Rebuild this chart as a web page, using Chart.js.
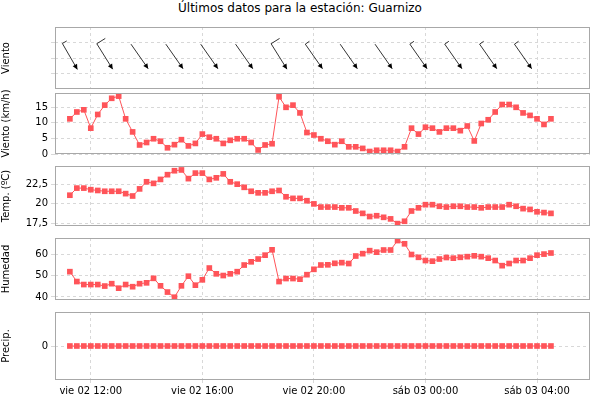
<!DOCTYPE html>
<html><head><meta charset="utf-8">
<script src="https://cdn.jsdelivr.net/npm/chart.js@4"></script>
<style>
body{margin:0;background:#fff;width:600px;height:400px;position:relative;overflow:hidden;font-family:"DejaVu Sans",sans-serif}
.title{position:absolute;top:1px;left:0;width:600px;text-align:center;font-size:12px;color:#000}
.p{position:absolute;left:0;width:600px}
</style></head><body>
<div class="title">Últimos datos para la estación: Guarnizo</div>
<div class="p" style="top:27px;height:62px"><canvas id="cDir"></canvas></div>
<div class="p" style="top:84px;height:79px"><canvas id="cVel"></canvas></div>
<div class="p" style="top:157px;height:78px"><canvas id="cTemp"></canvas></div>
<div class="p" style="top:229px;height:80px"><canvas id="cHum"></canvas></div>
<div class="p" style="top:303px;height:97px"><canvas id="cPre"></canvas></div>
<script>
// ============ DATA ============
// minutes since vie 02 00:00, one reading every 15 min from 11:15
const startMin = 675, stepMin = 15;
const windSpeed = [11.3,13.5,14.2,8.3,12.7,15.7,17.9,18.6,11.3,7.1,2.9,3.7,4.9,4.1,2.0,3.0,4.6,2.6,3.4,6.4,
  5.4,4.9,3.4,4.4,4.9,4.9,3.7,1.3,2.9,3.3,18.4,15.0,15.7,13.2,6.9,6.1,4.9,4.1,3.0,4.1,
  2.3,2.3,1.8,0.8,1.2,1.2,1.2,0.8,2.3,8.3,6.4,8.6,8.3,7.1,8.3,8.3,7.5,9.0,4.2,9.8,
  11.0,13.5,15.9,15.9,15.0,13.2,12.4,11.3,9.5,11.3];
const temperature = [21.1,22.0,22.0,21.8,21.7,21.6,21.6,21.6,21.3,21.0,21.9,22.8,22.6,23.1,23.7,24.2,24.3,23.2,23.9,23.9,
  23.1,23.3,23.8,22.8,22.5,22.1,21.6,21.4,21.4,21.6,21.7,20.9,20.7,20.7,20.4,20.0,19.6,19.6,19.6,19.5,
  19.5,19.1,18.8,18.4,18.5,18.3,18.1,17.5,17.8,19.1,19.5,19.9,19.9,19.7,19.6,19.7,19.7,19.6,19.6,19.5,
  19.6,19.6,19.6,19.9,19.7,19.4,19.3,19.0,18.9,18.8];
const humidity = [51.8,47.2,45.8,45.8,45.8,45.1,46.2,44.1,45.8,44.8,46.2,46.6,48.7,45.2,42.3,39.9,45.2,49.7,45.5,48.0,
  53.5,50.8,50.0,50.8,51.8,54.9,56.4,57.7,59.5,62.0,47.2,48.6,48.6,48.3,50.4,52.9,54.9,55.0,55.7,56.0,
  55.6,59.1,60.2,61.6,60.9,61.9,61.9,66.3,64.8,59.8,58.5,57.0,56.7,57.7,58.4,58.1,58.5,58.8,59.2,58.8,
  58.1,57.0,54.6,55.6,57.0,57.0,58.1,59.5,60.0,60.5];
const precip = new Array(70).fill(0);
// wind direction arrows, one every 5 readings
const dirIndex = [0,5,10,15,20,25,30,35,40,45,50,55,60,65];
const dirDeg = [330,328,325,325,325,325,328,325,325,325,325,325,325,325];
const dirBarbs = [1,2,0,0,0,0,2,1,0,0,1,1,1,1];
const tickMins = [720,960,1200,1440,1680];
const tickLabels = ["vie 02 12:00","vie 02 16:00","vie 02 20:00","sáb 03 00:00","sáb 03 04:00"];

const xMin = 643, xMax = 1794;
const red = "#ff5459";
const gridCol = "#d8d8d8";
Chart.defaults.font.family = "DejaVu Sans";
Chart.defaults.font.size = 10;
Chart.defaults.color = "#000";
Chart.defaults.animation = false;

function pts(arr){ return arr.map((v,i)=>({x:startMin+i*stepMin,y:v})); }

const boxPlugin = {
  id:"box",
  afterDraw(c){
    const a=c.chartArea, g=c.ctx;
    g.save(); g.strokeStyle="#a8a8a8"; g.lineWidth=1;
    g.strokeRect(a.left+0.5,a.top+0.5,a.width-1,a.height-1);
    g.restore();
  }
};

function makeChart(id, data, title, yOpts, showX, extra){
  const ds = data ? [{data:pts(data),borderColor:red,backgroundColor:red,borderWidth:1,
    pointStyle:"rect",pointRadius:4,pointBorderWidth:0}] : [{data:[],showLine:false}];
  return new Chart(document.getElementById(id),{
    type:"line",
    data:{datasets:ds},
    options:{
      responsive:true,maintainAspectRatio:false,
      layout:{padding:{left:0,right:10,top:0,bottom:0}},
      plugins:{legend:{display:false},tooltip:{enabled:false}},
      scales:{
        x:{type:"linear",min:xMin,max:xMax,
          afterBuildTicks(s){ s.ticks = tickMins.map(v=>({value:v})); },
          afterFit(s){ s.height = showX ? 20 : 0; },
          ticks:{display:showX,maxRotation:0,padding:2,callback:(v)=>tickLabels[tickMins.indexOf(v)]},
          grid:{color:gridCol,tickLength:showX?3:0,drawTicks:showX},
          border:{display:false,dash:[3,3]}},
        y:Object.assign({
          afterFit(s){ s.width=55; },
          title:{display:true,text:title,padding:{top:0,bottom:2}},
          grid:{color:gridCol,tickLength:4},
          border:{display:false,dash:[3,3]}}, yOpts)
      }
    },
    plugins: extra ? [boxPlugin, extra] : [boxPlugin]
  });
}

// wind direction panel with arrows drawn at data positions
const arrowPlugin = {
  id:"arrows",
  afterDatasetsDraw(c){
    const g=c.ctx, xs=c.scales.x, ys=c.scales.y;
    g.save(); g.strokeStyle="#000"; g.fillStyle="#000"; g.lineWidth=0.8;
    dirIndex.forEach((idx,k)=>{
      const cx=xs.getPixelForValue(startMin+idx*stepMin), cy=ys.getPixelForValue(2.1);
      const a=(dirDeg[k]-180)*Math.PI/180;
      const dx=Math.sin(a), dy=-Math.cos(a), L=15;
      const tx=cx-dx*L, ty=cy-dy*L, hx=cx+dx*L, hy=cy+dy*L;
      g.beginPath(); g.moveTo(tx,ty); g.lineTo(hx,hy); g.stroke();
      g.beginPath(); g.moveTo(hx,hy);
      g.lineTo(hx-dx*5-dy*2.5,hy-dy*5+dx*2.5);
      g.lineTo(hx-dx*5+dy*2.5,hy-dy*5-dx*2.5); g.closePath(); g.fill();
      if(dirBarbs[k]){
        const bl = dirBarbs[k]==2 ? 10 : 5;
        g.beginPath(); g.moveTo(tx,ty); g.lineTo(tx+dy*bl, ty-dx*bl); g.stroke();
      }
    });
    g.restore();
  }
};

makeChart("cDir", null, "Viento",
  {min:0,max:4,afterBuildTicks(s){s.ticks=[1,2,3].map(v=>({value:v}));},ticks:{display:false}}, false, arrowPlugin);
makeChart("cVel", windSpeed, "Viento (km/h)",
  {min:0,max:19.6,afterBuildTicks(s){s.ticks=[0,5,10,15].map(v=>({value:v}));}}, false);
makeChart("cTemp", temperature, "Temp. (ºC)",
  {min:17.2,max:24.8,afterBuildTicks(s){s.ticks=[17.5,20,22.5].map(v=>({value:v}));},
   ticks:{callback:v=>String(v).replace(".",",")}}, false);
makeChart("cHum", humidity, "Humedad",
  {min:38.6,max:67.5,afterBuildTicks(s){s.ticks=[40,50,60].map(v=>({value:v}));}}, false);
makeChart("cPre", precip, "Precip.",
  {min:-1,max:1,afterBuildTicks(s){s.ticks=[{value:0}];}}, true);
</script>
</body></html>
